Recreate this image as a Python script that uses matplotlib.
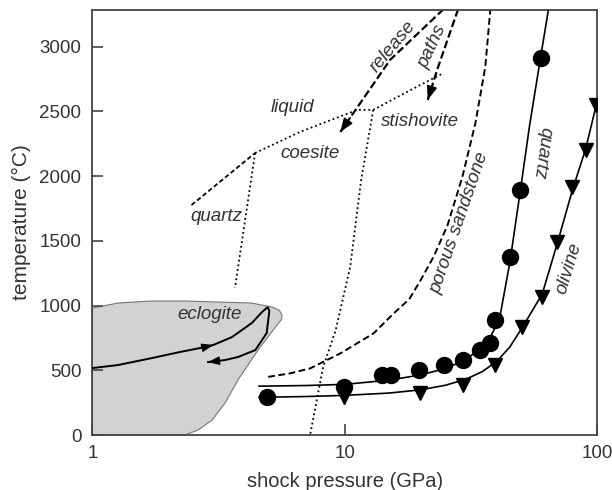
import numpy as np
import matplotlib
matplotlib.use('Agg')
import matplotlib.pyplot as plt
from matplotlib import font_manager

# Quartz Hugoniot: measured points (circles) and fitted curve
quartz_pts_p = [4.9, 9.9, 14.0, 15.3, 19.6, 24.8, 29.5, 34.4, 37.7, 39.3, 45.1, 49.6, 59.6]
quartz_pts_T = [296, 373, 464, 464, 502, 541, 580, 657, 709, 889, 1378, 1893, 2913]
quartz_curve_p = [4.57, 7, 10, 15, 20, 25, 30, 35, 38, 41, 45, 49.6, 54, 59.5, 64]
quartz_curve_T = [378, 383, 392, 425, 465, 515, 580, 680, 770, 900, 1330, 1893, 2400, 2908, 3285]

# Olivine Hugoniot: measured points (triangles) and fitted curve
olivine_pts_p = [9.9, 19.9, 29.5, 39.3, 50.4, 60.5, 69.4, 79.6, 89.9, 98.5]
olivine_pts_T = [294, 322, 386, 541, 837, 1069, 1494, 1919, 2202, 2550]
olivine_curve_p = [4.57, 7, 10, 15, 20, 25, 30, 35, 40, 45, 50.4, 60.5, 69.4, 79.6, 89.9, 98.5, 102]
olivine_curve_T = [292, 298, 307, 325, 350, 385, 430, 490, 570, 680, 830, 1090, 1480, 1890, 2210, 2530, 2640]

# porous sandstone Hugoniot
porous_p = [4.97, 6.06, 7.28, 9.59, 13.0, 15.6, 18.0, 20.0, 22.5, 25.5, 29.2, 32.9, 36.0, 37.7]
porous_T = [450, 477, 515, 631, 786, 940, 1050, 1200, 1380, 1620, 1994, 2411, 2844, 3290]

# release paths
release1_p = [24.6, 15.1, 9.59]
release1_T = [3290, 2898, 2341]
release2_p = [28.1, 23.2, 21.3]
release2_T = [3290, 2821, 2589]

# SiO2 phase boundaries
qz_liq_p = [2.47, 4.41]
qz_liq_T = [1777, 2179]
qz_coe_p = [4.41, 3.67]
qz_coe_T = [2179, 1136]
liq_p = [4.41, 6.63, 11.2, 12.95, 18, 24.6]
liq_T = [2179, 2341, 2512, 2512, 2660, 2797]
coe_sti_p = [12.95, 11.6, 10.5, 9.2, 8.2, 7.28]
coe_sti_T = [2512, 1970, 1300, 811, 525, 0]

# eclogite field and P-T path
ecl_field_p = [1.0, 1.26, 1.72, 2.32, 3.14, 4.28, 5.15, 5.5, 5.64, 5.6, 5.46, 4.53, 3.77, 3.35, 2.98, 2.62, 2.32, 1.0]
ecl_field_T = [981, 1020, 1036, 1036, 1028, 1020, 989, 965, 927, 890, 866, 657, 425, 247, 116, 39, 0, 0]
ecl_path_p = [1.0, 1.26, 1.72, 2.21, 2.79, 3.01, 3.57, 4.28, 4.7, 4.95, 5.02, 5.0, 4.90, 4.42, 3.77, 3.35, 2.87]
ecl_path_T = [518, 541, 595, 641, 680, 696, 757, 866, 951, 989, 960, 927, 788, 657, 603, 580, 564]

names = {f.name for f in font_manager.fontManager.ttflist}
narrow = 'Liberation Sans Narrow' if 'Liberation Sans Narrow' in names else 'Liberation Sans'
plt.rcParams['font.family'] = ['Liberation Sans', 'DejaVu Sans']

grey = '#444444'
fig, ax = plt.subplots(figsize=(6.12, 4.9), dpi=100)
fig.subplots_adjust(left=0.151, right=0.976, bottom=0.112, top=0.980)

ax.fill(ecl_field_p, ecl_field_T, facecolor='#d2d2d2', edgecolor='#777777', lw=0.8, zorder=1)


def head(px, py, i, scale=10, hl=0.85, hw=0.32):
    # small filled arrow head at point i, pointing along the path
    lx0, lx1 = np.log10(px[i - 1]), np.log10(px[i])
    tx = 10 ** (lx1 + 0.2 * (lx0 - lx1))
    ty = py[i] + 0.2 * (py[i - 1] - py[i])
    ax.annotate('', xy=(px[i], py[i]), xytext=(tx, ty),
                arrowprops=dict(arrowstyle=f'-|>,head_length={hl},head_width={hw}',
                                color='black', lw=1.0, shrinkA=0, shrinkB=0,
                                mutation_scale=scale), zorder=5)


ax.plot(ecl_path_p, ecl_path_T, color='black', lw=1.4, zorder=3)
head(ecl_path_p, ecl_path_T, 5, scale=8)
head(ecl_path_p, ecl_path_T, len(ecl_path_p) - 1, scale=8)

dot = (0, (1, 1.6))
ax.plot(qz_liq_p, qz_liq_T, color='black', lw=1.3, ls=(0, (2.5, 1.5)))
ax.plot(qz_coe_p, qz_coe_T, color='black', lw=1.3, ls=dot)
ax.plot(liq_p, liq_T, color='black', lw=1.3, ls=dot)
ax.plot(coe_sti_p, coe_sti_T, color='black', lw=1.3, ls=dot)

ax.plot(porous_p, porous_T, color='black', lw=1.4, ls=(0, (3.5, 1.8)))

for rp, rt in [(release1_p, release1_T), (release2_p, release2_T)]:
    ax.plot(rp, rt, color='black', lw=1.6, ls=(0, (3.5, 1.5)))
    head(rp, rt, len(rp) - 1, scale=10)

ax.plot(quartz_curve_p, quartz_curve_T, color='black', lw=1.2, zorder=3)
ax.plot(olivine_curve_p, olivine_curve_T, color='black', lw=1.2, zorder=3)
ax.plot(quartz_pts_p, quartz_pts_T, 'o', color='black', ms=11.5, zorder=4)
ax.plot(olivine_pts_p, olivine_pts_T, 'v', color='black', ms=10.5, zorder=4)

lab = dict(family=[narrow, 'DejaVu Sans'], style='italic', fontsize=13.5, color='#333333',
           ha='center', va='center', rotation_mode='anchor')
ax.text(6.18, 2527, 'liquid', **lab)
ax.text(7.29, 2172, 'coesite', **lab)
ax.text(3.11, 1692, 'quartz', **lab)
ax.text(19.9, 2419, 'stishovite', **lab)
ax.text(2.92, 935, 'eclogite', **lab)
ax.text(15.5, 2998, 'release', rotation=50, **lab)
ax.text(22.2, 2998, 'paths', rotation=65, **lab)
ax.text(28.4, 1640, 'porous sandstone', rotation=71, **lab)
ax.text(60.5, 2180, 'quartz', rotation=-98, **lab)
ax.text(76.9, 1290, 'olivine', rotation=73, **lab)

ax.set_xscale('log')
ax.set_xlim(1, 100)
ax.set_ylim(0, 3285)
ax.set_xticks([1, 10, 100])
ax.set_xticklabels(['1', '10', '100'])
ax.minorticks_off()
ax.set_yticks(range(0, 3001, 500))
ax.tick_params(direction='in', length=8, width=1.2, color=grey, labelsize=13.5,
               labelcolor='#333333')
ax.tick_params(axis='x', pad=7)
ax.tick_params(axis='y', pad=8)
for s in ax.spines.values():
    s.set_color(grey)
    s.set_linewidth(1.3)
ax.set_xlabel('shock pressure (GPa)', fontsize=14.5, color='#333333', labelpad=7)
ax.set_ylabel('temperature (°C)', fontsize=15, color='#333333', labelpad=6)

fig.savefig('out.png', dpi=100)
